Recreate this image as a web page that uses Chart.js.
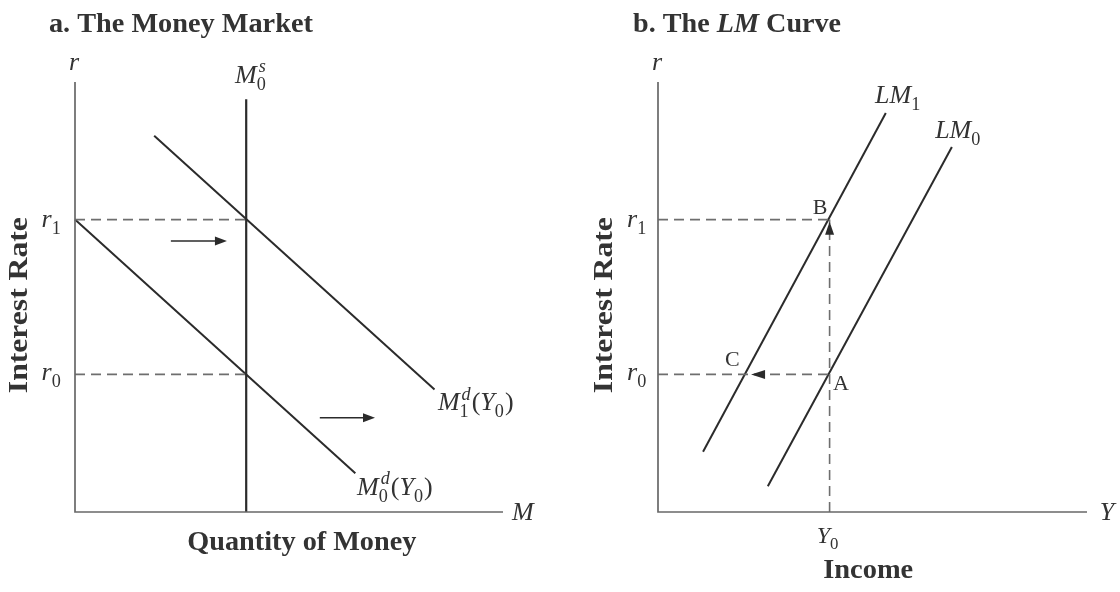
<!DOCTYPE html>
<html><head><meta charset="utf-8">
<script src="https://cdn.jsdelivr.net/npm/chart.js@4.4.1/dist/chart.umd.min.js"></script>
<style>
html,body{margin:0;padding:0;background:#fff;}
#wrap{position:relative;width:1120px;height:592px;background:#fff;}
.pane{position:absolute;top:0;width:560px;height:592px;}
</style></head><body>
<div id="wrap">
  <div class="pane" style="left:0"><canvas id="ca" width="560" height="592"></canvas></div>
  <div class="pane" style="left:560px"><canvas id="cb" width="560" height="592"></canvas></div>
</div>
<script>
// ---------- data (abstract units, axes run 0..10) ----------
// Panel a: The Money Market
const rLevels = [3.2, 6.8];                 // r0, r1
const moneySupplyM0 = 4.0;                  // vertical M0s line
const moneySupplyTop = 9.6;
const demandM0 = [[0, 6.8], [6.55, 0.9]];   // M0d(Y0)
const demandM1 = [[1.85, 8.75], [8.4, 2.85]]; // M1d(Y0)
const shiftUpper = [[2.24, 6.3], [3.55, 6.3]];
const shiftLower = [[5.72, 2.19], [7.01, 2.19]];
// Panel b: The LM Curve
const incomeY0 = 4.0;
const curveLM1 = [[1.05, 1.40], [5.31, 9.28]];
const curveLM0 = [[2.56, 0.60], [6.85, 8.49]];
const arrowToC = 2.17;

// ---------- styles ----------
const SERIF = "'Liberation Serif','Times New Roman',serif";
const AXIS = '#686868', CURVE = '#2b2b2b', DASH = '#6e6e6e', TEXT = '#333333';
const SUBK = 0.7;
function fnt(f, s) {
  const pre = f === 'b' ? 'bold ' : f === 'bi' ? 'italic bold ' : f === 'i' ? 'italic ' : '';
  return pre + s + 'px ' + SERIF;
}
function seg(pts, color, width, dash) {
  return { data: pts.map(([x, y]) => ({ x, y })), showLine: true, borderColor: color,
    borderWidth: width, borderDash: dash || [], pointRadius: 0, pointHoverRadius: 0,
    clip: false, fill: false, tension: 0, borderCapStyle: 'butt' };
}
function measureRich(ctx, parts, size) {
  let total = 0;
  const items = parts.map(p => {
    let w = 0;
    if (p.t !== undefined) { ctx.font = fnt(p.f || 'r', size); w = ctx.measureText(p.t).width; }
    else {
      const s = size * SUBK;
      if (p.sup) { ctx.font = fnt('i', s); w = Math.max(w, ctx.measureText(p.sup).width + (p.supdx || 0)); }
      if (p.sub) { ctx.font = fnt('r', s); w = Math.max(w, ctx.measureText(p.sub).width); }
      w += 1;
    }
    total += w;
    return Object.assign({ w }, p);
  });
  return { items, total };
}
function drawRich(ctx, x, y, parts, size, opt) {
  opt = opt || {};
  const { items, total } = measureRich(ctx, parts, size);
  ctx.save();
  ctx.translate(x, y);
  if (opt.rotate) ctx.rotate(opt.rotate);
  let k = 1;
  if (opt.fit) k = opt.fit / total;
  ctx.scale(k, 1);
  let cx = opt.align === 'center' ? -total / 2 : 0;
  ctx.fillStyle = opt.color || TEXT;
  ctx.textBaseline = 'alphabetic';
  ctx.textAlign = 'left';
  for (const it of items) {
    if (it.t !== undefined) {
      ctx.font = fnt(it.f || 'r', size);
      ctx.fillText(it.t, cx, 0);
    } else {
      const s = size * SUBK;
      if (it.sup) { ctx.font = fnt('i', s); ctx.fillText(it.sup, cx + (it.supdx || 0), -size * 0.40); }
      if (it.sub) { ctx.font = fnt('r', s); ctx.fillText(it.sub, cx, size * 0.27); }
    }
    cx += it.w;
  }
  ctx.restore();
}
function arrowHead(ctx, tx, ty, dx, dy, len, half) {
  const px = -dy, py = dx;
  ctx.save();
  ctx.fillStyle = CURVE;
  ctx.beginPath();
  ctx.moveTo(tx, ty);
  ctx.lineTo(tx - dx * len + px * half, ty - dy * len + py * half);
  ctx.lineTo(tx - dx * len - px * half, ty - dy * len - py * half);
  ctx.closePath();
  ctx.fill();
  ctx.restore();
}
function annotPlugin(labels, arrows) {
  return {
    id: 'annot',
    afterDatasetsDraw(chart) {
      const ctx = chart.ctx, xs = chart.scales.x, ys = chart.scales.y;
      for (const a of arrows) {
        arrowHead(ctx, xs.getPixelForValue(a.x), ys.getPixelForValue(a.y), a.dx, a.dy, a.len || 12, a.half || 4.5);
      }
      for (const l of labels) {
        drawRich(ctx, xs.getPixelForValue(l.x), ys.getPixelForValue(l.y), l.parts, l.size,
          { align: l.align, rotate: l.rotate, fit: l.fit });
      }
    }
  };
}
function baseOptions(padding) {
  return {
    responsive: false, animation: false, events: [],
    layout: { padding },
    plugins: { legend: { display: false }, tooltip: { enabled: false }, title: { display: false } },
    scales: {
      x: { type: 'linear', min: 0, max: 10, display: false },
      y: { type: 'linear', min: 0, max: 10, display: false }
    }
  };
}

const I = t => ({ t, f: 'i' }), R = t => ({ t, f: 'r' }), B = t => ({ t, f: 'b' });

// ---------- Panel a ----------
const [r0, r1] = rLevels;
const labelsA = [
  { x: -0.61, y: 11.16, size: 28, parts: [B('a. The Money Market')], fit: 264 },
  { x: -0.14, y: 10.28, size: 26, parts: [I('r')] },
  { x: 3.74, y: 9.98, size: 26, parts: [I('M'), { sup: 's', sub: '0', supdx: 2 }] },
  { x: -0.78, y: 6.63, size: 26, parts: [I('r'), { sub: '1' }] },
  { x: -0.78, y: 3.07, size: 26, parts: [I('r'), { sub: '0' }] },
  { x: 8.48, y: 2.37, size: 26, parts: [I('M'), { sup: 'd', sub: '1', supdx: 2 }, R('('), I('Y'), { sub: '0' }, R(')')] },
  { x: 6.59, y: 0.40, size: 26, parts: [I('M'), { sup: 'd', sub: '0', supdx: 2 }, R('('), I('Y'), { sub: '0' }, R(')')] },
  { x: 10.21, y: -0.19, size: 26, parts: [I('M')] },
  { x: 5.30, y: -0.88, size: 27, parts: [B('Quantity of Money')], align: 'center', fit: 229 },
  { x: -1.12, y: 4.81, size: 27, parts: [B('Interest Rate')], align: 'center', rotate: -Math.PI / 2, fit: 176 }
];
const arrowsA = [
  { x: shiftUpper[1][0], y: shiftUpper[1][1], dx: 1, dy: 0 },
  { x: shiftLower[1][0], y: shiftLower[1][1], dx: 1, dy: 0 }
];
new Chart(document.getElementById('ca'), {
  type: 'scatter',
  data: { datasets: [
    seg([[0, 10], [0, 0], [10, 0]], AXIS, 1.7),
    seg([[0, r1], [moneySupplyM0, r1]], DASH, 1.6, [10, 6]),
    seg([[0, r0], [moneySupplyM0, r0]], DASH, 1.6, [10, 6]),
    seg([[moneySupplyM0, 0], [moneySupplyM0, moneySupplyTop]], CURVE, 2.2),
    seg(demandM0, CURVE, 2),
    seg(demandM1, CURVE, 2),
    seg([shiftUpper[0], [shiftUpper[1][0] - 0.2, shiftUpper[1][1]]], CURVE, 1.5),
    seg([shiftLower[0], [shiftLower[1][0] - 0.2, shiftLower[1][1]]], CURVE, 1.5)
  ] },
  options: baseOptions({ left: 75, right: 57, top: 82, bottom: 80 }),
  plugins: [annotPlugin(labelsA, arrowsA)]
});

// ---------- Panel b ----------
const labelsB = [
  { x: -0.58, y: 11.16, size: 28, parts: [B('b. The '), { t: 'LM', f: 'bi' }, B(' Curve')], fit: 208 },
  { x: -0.14, y: 10.28, size: 26, parts: [I('r')] },
  { x: -0.72, y: 6.63, size: 26, parts: [I('r'), { sub: '1' }] },
  { x: -0.72, y: 3.07, size: 26, parts: [I('r'), { sub: '0' }] },
  { x: 5.06, y: 9.51, size: 26, parts: [I('LM'), { sub: '1' }] },
  { x: 6.46, y: 8.70, size: 26, parts: [I('LM'), { sub: '0' }] },
  { x: 3.61, y: 6.93, size: 22, parts: [R('B')] },
  { x: 1.56, y: 3.40, size: 22, parts: [R('C')] },
  { x: 4.08, y: 2.84, size: 22, parts: [R('A')] },
  { x: 3.70, y: -0.72, size: 24, parts: [I('Y'), { sub: '0' }] },
  { x: 10.30, y: -0.19, size: 26, parts: [I('Y')] },
  { x: 4.90, y: -1.53, size: 27, parts: [B('Income')], align: 'center', fit: 90 },
  { x: -1.07, y: 4.81, size: 27, parts: [B('Interest Rate')], align: 'center', rotate: -Math.PI / 2, fit: 176 }
];
const arrowsB = [
  { x: incomeY0, y: r1 - 0.05, dx: 0, dy: -1, len: 13, half: 4.5 },
  { x: arrowToC, y: r0, dx: -1, dy: 0, len: 14, half: 4.5 }
];
new Chart(document.getElementById('cb'), {
  type: 'scatter',
  data: { datasets: [
    seg([[0, 10], [0, 0], [10, 0]], AXIS, 1.7),
    seg([[0, r1], [incomeY0, r1]], DASH, 1.6, [10, 6]),
    seg([[0, r0], [incomeY0, r0]], DASH, 1.6, [10, 6]),
    seg([[incomeY0, 0], [incomeY0, r1]], DASH, 1.6, [10, 6]),
    seg(curveLM1, CURVE, 2),
    seg(curveLM0, CURVE, 2)
  ] },
  options: baseOptions({ left: 98, right: 33, top: 82, bottom: 80 }),
  plugins: [annotPlugin(labelsB, arrowsB)]
});
</script>
</body></html>
